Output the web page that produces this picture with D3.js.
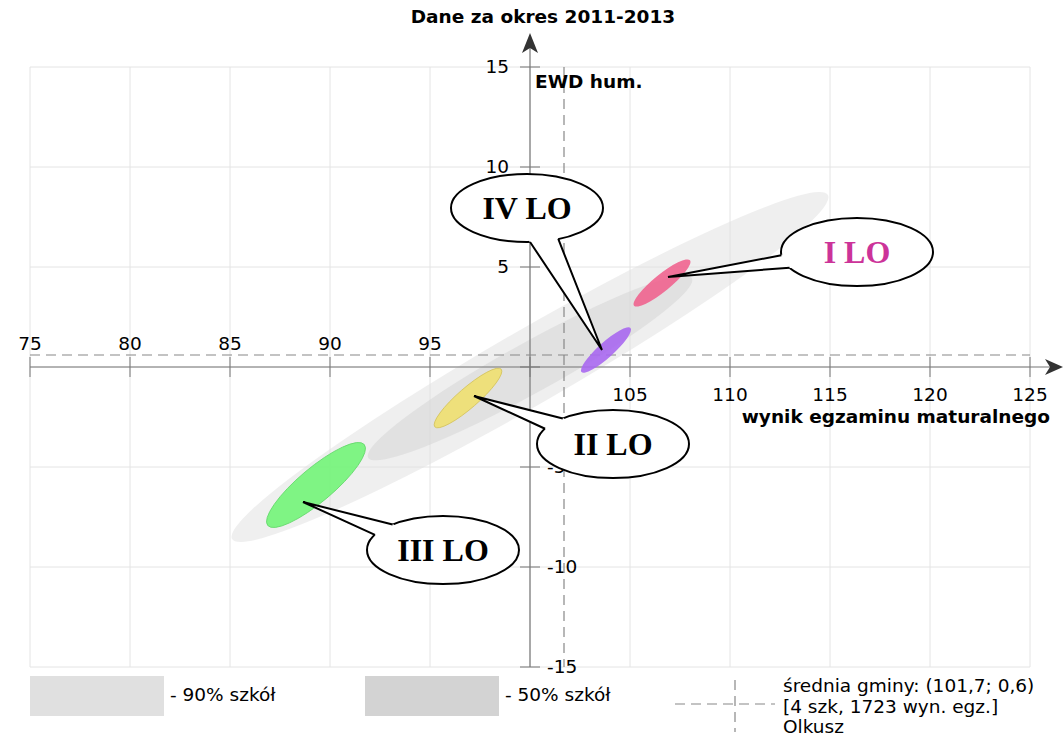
<!DOCTYPE html>
<html>
<head>
<meta charset="utf-8">
<title>EWD hum. - Olkusz</title>
<script src="https://d3js.org/d3.v7.min.js"></script>
<style>
body { margin: 0; background: #fff; }
svg { display: block; font-family: "DejaVu Sans", sans-serif; }
.grid line { stroke: #e4e4e4; stroke-width: 1; }
.axis-line { stroke: #777; stroke-width: 1.2; }
.mean { stroke: #888; stroke-width: 1.2; stroke-dasharray: 10,6; fill: none; }
.bubble { fill: #fff; stroke: #000; stroke-width: 2; }
.bubble-text { font-family: "Liberation Serif", "DejaVu Serif", serif; font-weight: bold; font-size: 32px; }
</style>
</head>
<body>
<svg width="1064" height="736"></svg>
<script>
// tick values
var xTicks = [75, 80, 85, 90, 95, 100, 105, 110, 115, 120, 125];
var yTicks = [-15, -10, -5, 0, 5, 10, 15];

// gmina mean
var meanX = 101.7, meanY = 0.6;

// ranges of all schools (90% and 50%) - center, radii, angle (data units)
var bands = ["90% szkół", "50% szkół"];
var bandX = [100, 100];
var bandY = [0, -0.05];
var bandRx = [17.2, 9.25];
var bandRy = [1.85, 1.25];
var bandAngle = [30, 29];
var bandColor = ["#e0e0e0", "#d3d3d3"];

// schools: ellipse of results
var schools = ["I LO", "II LO", "III LO", "IV LO"];
var schoolX = [106.6, 96.9, 89.3, 103.8];
var schoolY = [4.2, -1.55, -5.9, 0.85];
var schoolRx = [1.8, 2.2, 3.15, 1.65];
var schoolRy = [0.42, 0.5, 0.85, 0.38];
var schoolAngle = [39, 41, 40, 42];
var schoolColor = ["#f0648f", "#f0e070", "#72f478", "#a868f0"];
var schoolStroke = ["none", "#d4c35a", "#62d86a", "none"];

// point each callout refers to
var pointX = [106.9, 97.2, 88.65, 103.6];
var pointY = [4.5, -1.45, -6.75, 0.85];

// label bubbles (data coords)
var labelX = [116.35, 104.15, 95.65, 99.85];
var labelY = [5.75, -3.85, -9.15, 7.95];
var labelColor = ["#cc3399", "#000", "#000", "#000"];

var svg = d3.select("svg");

var x = d3.scaleLinear().domain([75, 125]).range([30, 1030]);
var y = d3.scaleLinear().domain([-15, 15]).range([667, 67]);

// grid
var grid = svg.append("g").attr("class", "grid");
grid.selectAll(".gx").data(xTicks).enter().append("line")
    .attr("x1", d => x(d)).attr("x2", d => x(d))
    .attr("y1", y(15)).attr("y2", y(-15));
grid.selectAll(".gy").data(yTicks).enter().append("line")
    .attr("x1", x(75)).attr("x2", x(125))
    .attr("y1", d => y(d)).attr("y2", d => y(d));

// helper: ellipse in data units
function drawEllipse(g, cx, cy, rx, ry, ang) {
  var px = x(cx), py = y(cy);
  return g.append("ellipse")
    .attr("cx", px).attr("cy", py)
    .attr("rx", x(cx + rx) - px)
    .attr("ry", x(cx + ry) - px)
    .attr("transform", "rotate(" + (-ang) + "," + px + "," + py + ")");
}

var bandG = svg.append("g");
bands.forEach(function(b, i) {
  drawEllipse(bandG, bandX[i], bandY[i], bandRx[i], bandRy[i], bandAngle[i])
    .attr("fill", bandColor[i]).attr("fill-opacity", 0.5);
});

// main axes
svg.append("line").attr("class", "axis-line")
    .attr("x1", x(75)).attr("x2", 1050).attr("y1", y(0)).attr("y2", y(0));
svg.append("line").attr("class", "axis-line")
    .attr("x1", x(100)).attr("x2", x(100)).attr("y1", y(-15)).attr("y2", 45);
svg.append("path").attr("fill", "#333")
    .attr("d", "M1063," + y(0) + " L1045," + (y(0) - 8) + " L1050," + y(0) + " L1045," + (y(0) + 8) + "Z");
svg.append("path").attr("fill", "#333")
    .attr("d", "M" + x(100) + ",33 L" + (x(100) - 8) + ",53 L" + x(100) + ",48 L" + (x(100) + 8) + ",53Z");

// x ticks
svg.selectAll(".xt").data(xTicks).enter().append("line")
    .attr("stroke", "#777")
    .attr("x1", d => x(d)).attr("x2", d => x(d))
    .attr("y1", y(0) - 10).attr("y2", y(0) + 10);
svg.selectAll(".xl").data(xTicks.filter(d => d != 100)).enter().append("text")
    .attr("x", d => x(d))
    .attr("y", d => d < 100 ? y(0) - 17 : y(0) + 34)
    .attr("text-anchor", "middle")
    .attr("font-size", 18.5)
    .text(d => d);

// y ticks
svg.selectAll(".yt").data(yTicks).enter().append("line")
    .attr("stroke", "#777")
    .attr("x1", x(100) - 10).attr("x2", x(100) + 10)
    .attr("y1", d => y(d)).attr("y2", d => y(d));
svg.selectAll(".yl").data(yTicks.filter(d => d != 0)).enter().append("text")
    .attr("x", d => d > 0 ? x(100) - 21 : x(100) + 17)
    .attr("y", d => y(d))
    .attr("dy", "0.35em")
    .attr("text-anchor", d => d > 0 ? "end" : "start")
    .attr("font-size", 18.5)
    .text(d => d);

// mean lines
svg.append("line").attr("class", "mean")
    .attr("x1", x(75)).attr("x2", x(125)).attr("y1", y(meanY)).attr("y2", y(meanY));
svg.append("line").attr("class", "mean")
    .attr("x1", x(meanX)).attr("x2", x(meanX)).attr("y1", y(15)).attr("y2", y(-15));

// schools
var schoolG = svg.append("g");
schools.forEach(function(s, i) {
  drawEllipse(schoolG, schoolX[i], schoolY[i], schoolRx[i], schoolRy[i], schoolAngle[i])
    .attr("fill", schoolColor[i]).attr("fill-opacity", 0.9)
    .attr("stroke", schoolStroke[i]).attr("stroke-width", 0.8);
});

// callout bubbles
var brx = 76, bry = 34, spread = 11 * Math.PI / 180;
schools.forEach(function(s, i) {
  var g = svg.append("g");
  var cx = x(labelX[i]), cy = y(labelY[i]);
  var tx = x(pointX[i]), ty = y(pointY[i]);
  var a = Math.atan2((ty - cy) / bry, (tx - cx) / brx);
  var p1 = [cx + brx * Math.cos(a - spread), cy + bry * Math.sin(a - spread)];
  var p2 = [cx + brx * Math.cos(a + spread), cy + bry * Math.sin(a + spread)];
  g.append("ellipse").attr("class", "bubble")
    .attr("cx", cx).attr("cy", cy).attr("rx", brx).attr("ry", bry);
  // white tail body covers the bubble outline in the gap
  g.append("path").attr("fill", "#fff").attr("stroke", "#fff").attr("stroke-width", 1)
    .attr("d", "M" + p1 + " L" + tx + "," + ty + " L" + p2 + " L" + [cx, cy] + "Z");
  g.append("path").attr("fill", "none").attr("stroke", "#000").attr("stroke-width", 2)
    .attr("d", "M" + p1 + " L" + tx + "," + ty + " L" + p2);
  g.append("text").attr("class", "bubble-text")
    .attr("x", cx).attr("y", cy).attr("dy", "0.35em")
    .attr("text-anchor", "middle")
    .attr("fill", labelColor[i])
    .text(s);
});

// axis titles
svg.append("text").attr("x", 543).attr("y", 23).attr("text-anchor", "middle")
    .attr("font-weight", "bold").attr("font-size", 18.5).text("Dane za okres 2011-2013");
svg.append("text").attr("x", x(100) + 5).attr("y", 88)
    .attr("font-weight", "bold").attr("font-size", 18.5).text("EWD hum.");
svg.append("text").attr("x", 1050).attr("y", 423).attr("text-anchor", "end")
    .attr("font-weight", "bold").attr("font-size", 18.5).text("wynik egzaminu maturalnego");

// legend
var legend = svg.append("g");
bands.forEach(function(b, i) {
  var lx = 30 + i * 335;
  legend.append("rect").attr("x", lx).attr("y", 676).attr("width", 134).attr("height", 40)
    .attr("fill", bandColor[i]);
  legend.append("text").attr("x", lx + 140).attr("y", 701).attr("font-size", 18.5).text("- " + b);
});
legend.append("line").attr("class", "mean").attr("stroke-dasharray", "9,6")
    .attr("x1", 675).attr("x2", 775).attr("y1", 704).attr("y2", 704);
legend.append("line").attr("class", "mean").attr("stroke-dasharray", "12,8")
    .attr("x1", 735).attr("x2", 735).attr("y1", 680).attr("y2", 732);
var meanLines = ["średnia gminy: (101,7; 0,6)", "[4 szk, 1723 wyn. egz.]", "Olkusz"];
legend.selectAll(".ml").data(meanLines).enter().append("text")
    .attr("x", 783).attr("y", (d, i) => 692 + i * 20.5)
    .attr("font-size", 18.5).text(d => d);
</script>
</body>
</html>
